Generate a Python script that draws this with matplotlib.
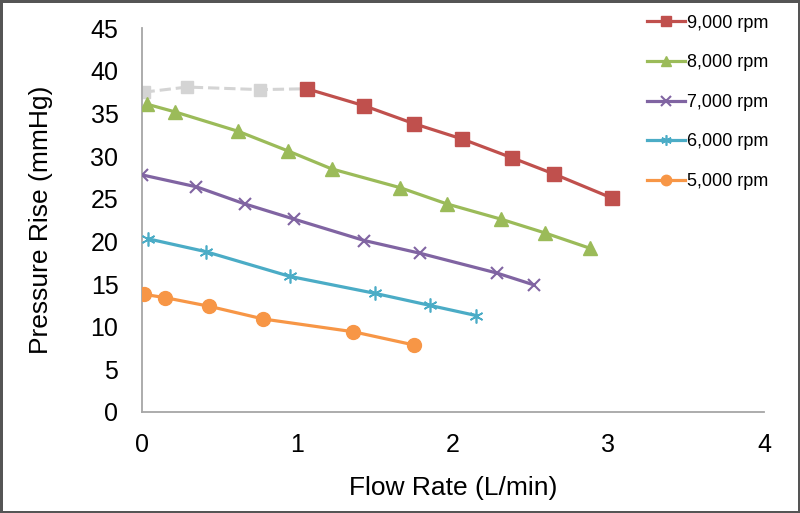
import matplotlib.pyplot as plt

plt.rcParams['font.family'] = ['Liberation Sans', 'DejaVu Sans']

# flow rate (L/min) and pressure rise (mmHg)
flow_9000 = [1.06, 1.43, 1.75, 2.06, 2.38, 2.65, 3.02]
pres_9000 = [37.9, 35.9, 33.8, 32.0, 29.8, 27.9, 25.1]

flow_9000_low = [0.01, 0.29, 0.76, 1.06]
pres_9000_low = [37.5, 38.1, 37.8, 37.9]

flow_8000 = [0.03, 0.21, 0.62, 0.94, 1.22, 1.66, 1.96, 2.31, 2.59, 2.88]
pres_8000 = [36.1, 35.2, 32.9, 30.6, 28.5, 26.3, 24.4, 22.6, 21.0, 19.2]

flow_7000 = [0.0, 0.35, 0.66, 0.98, 1.43, 1.79, 2.28, 2.52]
pres_7000 = [27.8, 26.4, 24.4, 22.6, 20.1, 18.6, 16.3, 14.9]

flow_6000 = [0.04, 0.41, 0.95, 1.50, 1.85, 2.15]
pres_6000 = [20.3, 18.8, 15.9, 13.9, 12.5, 11.3]

flow_5000 = [0.01, 0.15, 0.43, 0.78, 1.36, 1.75]
pres_5000 = [13.8, 13.4, 12.4, 10.9, 9.4, 7.85]

labels = ['9,000 rpm', '8,000 rpm', '7,000 rpm', '6,000 rpm', '5,000 rpm']
x_ticks = [0, 1, 2, 3, 4]
y_ticks = [0, 5, 10, 15, 20, 25, 30, 35, 40, 45]

fig = plt.figure(figsize=(8, 5.13), dpi=100)
fig.patch.set_edgecolor('#555555')
fig.patch.set_linewidth(2.5)
ax = fig.add_axes([0.1775, 0.197, 0.7775, 0.748])

# the low-flow part of the 9,000 rpm curve is drawn dashed in light grey
ax.plot(flow_9000_low, pres_9000_low, color='#D4D4D4', linestyle='--',
        linewidth=2.2, marker='s', markersize=9, markevery=[0, 1, 2],
        zorder=2)

series = [
    (flow_9000, pres_9000, '#C0504D', 's', 9.5, 1.0),
    (flow_8000, pres_8000, '#9BBB59', '^', 10, 1.0),
    (flow_7000, pres_7000, '#8064A2', 'x', 9, 1.5),
    (flow_6000, pres_6000, '#4BACC6', (6, 2, 0), 10, 1.2),
    (flow_5000, pres_5000, '#F79646', 'o', 10, 1.0),
]
for (xs, ys, color, marker, ms, mew), label in zip(series, labels):
    ax.plot(xs, ys, color=color, linewidth=2.3, marker=marker, markersize=ms,
            markeredgewidth=mew, label=label, zorder=3)

ax.set_xlim(0, 4)
ax.set_ylim(0, 45)
ax.set_xticks(x_ticks)
ax.set_yticks(y_ticks)
ax.tick_params(length=0, labelsize=18)
ax.tick_params(axis='y', pad=17)
ax.tick_params(axis='x', pad=15)

for side in ['top', 'right']:
    ax.spines[side].set_visible(False)
for side in ['left', 'bottom']:
    ax.spines[side].set_color('#A6A6A6')
    ax.spines[side].set_linewidth(1.3)

ax.set_xlabel('Flow Rate (L/min)', fontsize=19, labelpad=14)
ax.set_ylabel('Pressure Rise (mmHg)', fontsize=19, labelpad=27)

ax.legend(loc='upper left', bbox_to_anchor=(0.812, 1.035), frameon=False,
          fontsize=13, handlelength=2.1, handletextpad=0.1,
          labelspacing=1.25, borderpad=0, borderaxespad=0, markerscale=0.75)

fig.savefig('out.png', dpi=100)
